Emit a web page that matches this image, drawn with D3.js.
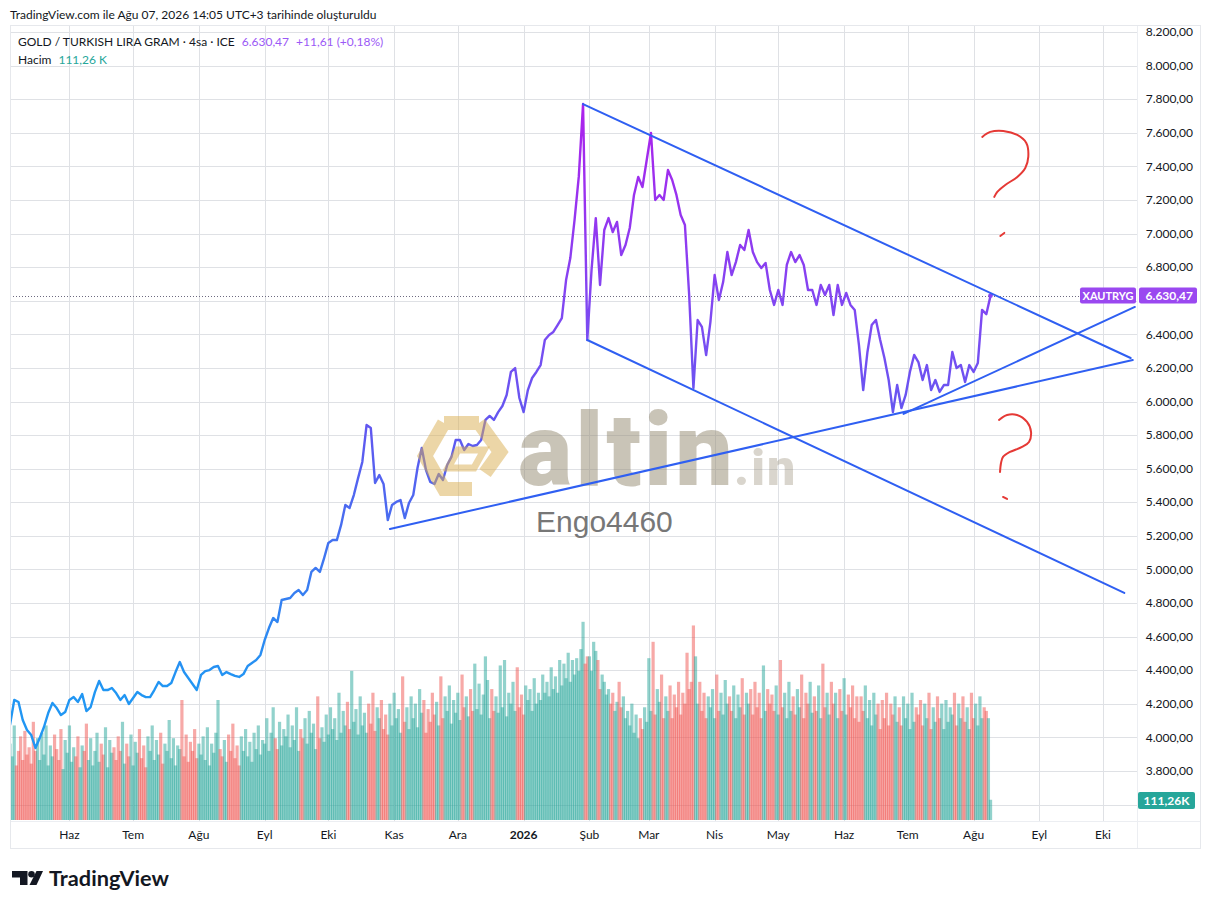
<!DOCTYPE html>
<html><head><meta charset="utf-8">
<script src="https://cdn.jsdelivr.net/npm/d3@7"></script>
<style>
body{margin:0;background:#fff;}
svg{display:block;font-family:Lato,"Open Sans",sans-serif;}
</style>
</head><body>
<svg id="c" width="1211" height="909"></svg>
<script>
// ---------------- DATA ----------------
const startDate = "2025-05-04";   // first price point / first volume bar
const priceStepDays = 2;          // price points every 2 days
const prices = [
4074,4223,4211,4104,4044,4014,3937,3996,4062,4145,
4205,4175,4133,4151,4223,4240,4211,4258,4157,4181,
4270,4336,4282,4282,4294,4264,4223,4252,4199,4235,
4270,4252,4240,4240,4282,4330,4306,4306,4324,4389,
4449,4389,4354,4318,4282,4372,4395,4401,4419,4425,
4372,4389,4377,4366,4360,4377,4425,4443,4461,4491,
4580,4651,4711,4687,4818,4824,4830,4860,4878,4848,
4878,4985,5009,4985,5068,5158,5175,5175,5265,5384,
5366,5443,5544,5640,5860,5842,5515,5562,5509,5294,
5384,5402,5413,5306,5396,5443,5604,5723,5592,5521,
5509,5568,5533,5622,5670,5771,5771,5711,5747,5735,
5741,5771,5890,5914,5890,5937,5973,6039,6176,6199,
6021,5937,6068,6140,6176,6217,6366,6396,6414,6455,
6497,6723,6854,7081,7340,7771,6366,6783,7092,6694,
7021,7092,7009,7069,6872,6932,7033,7230,7337,7277,
7438,7599,7200,7230,7200,7378,7319,7230,7110,7051,
6634,6080,6485,6444,6277,6473,6753,6604,6711,6890,
6753,6830,6932,6902,7021,6890,6830,6795,6825,6664,
6575,6664,6575,6813,6890,6830,6872,6813,6664,6664,
6575,6694,6634,6694,6515,6694,6575,6646,6575,6545,
6336,6068,6295,6455,6485,6366,6259,6128,5937,6098,
5961,6039,6176,6277,6235,6128,6217,6068,6128,6057,
6098,6098,6295,6199,6217,6116,6217,6176,6229,6545,
6520,6630.47
];
// daily volume (K)
const volumes = [
420,350,520,300,380,460,330,490,360,400,
310,540,380,450,330,480,360,520,300,410,
350,470,390,330,500,280,440,370,520,320,
400,350,460,290,410,380,530,330,450,300,
380,480,320,420,360,510,290,440,370,400,
330,460,380,540,310,420,350,470,300,430,
370,500,340,410,290,460,380,520,330,440,
360,480,310,420,380,550,340,450,300,410,
390,660,350,470,320,430,380,500,340,420,
360,460,330,510,300,420,370,480,660,390,
350,440,320,470,380,530,340,410,300,460,
380,500,350,430,320,480,390,520,360,440,
420,560,380,480,620,450,390,540,410,500,
460,580,400,520,440,620,380,500,450,560,
420,600,480,530,390,680,450,510,430,580,
470,620,500,560,440,700,480,600,520,650,
500,820,540,610,470,680,520,590,480,640,
530,700,490,620,560,660,500,580,470,640,
520,700,560,610,480,790,540,620,500,680,
560,640,510,720,590,660,480,610,540,700,
580,650,520,790,560,680,600,740,530,660,
590,700,550,800,620,680,570,720,600,860,
610,750,580,690,900,770,560,720,600,680,
590,850,620,880,570,700,640,760,600,840,
620,690,580,740,660,720,600,780,640,700,
660,800,700,760,680,840,720,790,700,880,
740,860,780,920,760,880,800,890,820,940,
1090,860,900,900,820,980,930,880,720,800,
760,690,720,640,700,600,650,760,620,680,
560,600,520,640,480,580,450,560,500,620,
540,890,600,980,580,720,650,800,560,680,
600,740,560,690,620,760,580,700,640,920,
720,760,1070,900,640,760,600,700,560,680,
620,720,560,800,600,700,580,770,640,680,
600,740,560,690,620,780,580,700,640,720,
580,760,620,700,560,850,600,720,640,690,
600,740,580,880,620,700,560,760,600,680,
580,720,620,800,560,700,640,760,590,680,
600,740,560,860,620,700,580,760,640,700,
560,720,600,780,580,690,620,740,560,680,
540,680,600,740,560,660,520,700,580,640,
500,660,560,700,520,640,580,680,540,620,
520,680,560,640,500,700,540,620,580,660,
520,640,560,700,500,620,540,680,560,640,
500,660,540,620,580,700,520,640,560,680,
540,620,500,700,560,640,520,680,560,620,
600,560,111.26
];
const monthLabels = ["Haz","Tem","Ağu","Eyl","Eki","Kas","Ara","2026","Şub","Mar","Nis","May","Haz","Tem","Ağu","Eyl","Eki"];
const priceTicks = [3600,3800,4000,4200,4400,4600,4800,5000,5200,5400,5600,5800,6000,6200,6400,6600,6800,7000,7200,7400,7600,7800,8000,8200];
const trendLines = [
  [["2026-01-29",7771],["2026-10-14",6259]],
  [["2026-01-31",6366],["2026-10-11",4860]],
  [["2025-10-30",5241],["2026-10-15",6247]],
  [["2026-06-29",5926],["2026-10-16",6563]]
];
const lastPrice = 6630.47;
const lastVolume = "111,26K";
const symbol = "XAUTRYG";
const qMarks = [
 {date:"2026-08-15", price:7611, shape:[[-21,6],[-13,1],[0,0],[14,4],[23,12],[25,26],[22,37],[14,46],[2,54],[-6,61],[-9,66]], dot:[[-3,105],[1,102]]},
 {date:"2026-08-21", price:5920, shape:[[-17,5],[-9,0],[1,0],[11,7],[15,17],[13,27],[6,32],[-6,37],[-13,42],[-15,48],[-16,57]], dot:[[-13,82],[-9,84]]}
];

// ---------------- LAYOUT ----------------
const frame = {l:10, t:25, r:1200, b:848};
const plot = {l:10, t:25, r:1137, b:821};
const svg = d3.select("#c");
const parse = d3.utcParse("%Y-%m-%d");
const t0 = parse(startDate);
const x = d3.scaleUtc().domain([parse("2025-05-04"), parse("2026-10-17")]).range([plot.l, plot.r]);
const y = d3.scaleLinear().domain([3800, 8200]).range([771, 32]);
const yv = d3.scaleLinear().domain([0, 1100]).range([plot.b - 1, 620]);
const loc = d3.formatLocale({decimal:",", thousands:".", grouping:[3], currency:["",""]});
const fmt = loc.format(",.2f");

const priceData = prices.map((p,i)=>({date:d3.utcDay.offset(t0, i*priceStepDays), p}));
const volData = volumes.map((v,i)=>{
  const k = Math.max(1, Math.min(prices.length-1, Math.ceil(i/priceStepDays)));
  return {date:d3.utcDay.offset(t0, i), v, up: prices[k] >= prices[k-1]};
});

svg.append("rect").attr("width",1211).attr("height",909).attr("fill","#fff");

const defs = svg.append("defs");
defs.append("clipPath").attr("id","clip").append("rect")
  .attr("x",plot.l).attr("y",plot.t).attr("width",plot.r-plot.l).attr("height",plot.b-plot.t);
const grad = defs.append("linearGradient").attr("id","lg")
  .attr("gradientUnits","userSpaceOnUse").attr("x1",0).attr("x2",0)
  .attr("y1",y(4300)).attr("y2",y(7750));
[[0,"#2196f3"],[0.26,"#4470f0"],[0.44,"#6058f0"],[0.61,"#7a4cf2"],[0.79,"#9238f0"],[1,"#ac22ec"]]
  .forEach(([o,c])=>grad.append("stop").attr("offset",o).attr("stop-color",c));

// title
svg.append("text").attr("x",10).attr("y",19).attr("font-size",12).attr("fill","#131722")
  .text("TradingView.com ile Ağu 07, 2026 14:05 UTC+3 tarihinde oluşturuldu");

// grid
const gGrid = svg.append("g").attr("stroke","#dfe1e5").attr("stroke-width",1);
const months = d3.utcMonth.range(parse("2025-06-01"), parse("2026-10-02"));
gGrid.selectAll("line.v").data(months).join("line")
  .attr("x1",d=>Math.round(x(d))+0.5).attr("x2",d=>Math.round(x(d))+0.5)
  .attr("y1",plot.t).attr("y2",plot.b);
gGrid.selectAll("line.h").data(priceTicks).join("line")
  .attr("x1",plot.l).attr("x2",plot.r)
  .attr("y1",d=>Math.round(y(d))+0.5).attr("y2",d=>Math.round(y(d))+0.5);

// volume
const step = x(d3.utcDay.offset(t0,1)) - x(t0);
const bw = step * 1.5;
svg.append("g").attr("clip-path","url(#clip)").selectAll("rect").data(volData).join("rect")
  .attr("x",d=>x(d.date)-bw/2).attr("width",bw)
  .attr("y",d=>yv(d.v)).attr("height",d=>yv(0)-yv(d.v))
  .attr("fill",d=>d.up ? "#26a69a" : "#ef5350").attr("opacity",0.5);

// dotted last price line
svg.append("line").attr("x1",plot.l).attr("x2",plot.r)
  .attr("y1",Math.round(y(lastPrice))+0.5).attr("y2",Math.round(y(lastPrice))+0.5)
  .attr("stroke","#6d6a80").attr("stroke-width",1).attr("stroke-dasharray","1,2");

// price line
svg.append("path").datum(priceData).attr("clip-path","url(#clip)")
  .attr("fill","none").attr("stroke","url(#lg)").attr("stroke-width",2.4)
  .attr("stroke-linejoin","round")
  .attr("d", d3.line().x(d=>x(d.date)).y(d=>y(d.p)));
svg.append("circle").attr("cx",x(priceData[priceData.length-1].date)).attr("cy",y(lastPrice))
  .attr("r",2.4).attr("fill","#8a46f2");

// watermark
const wm = svg.append("g");
wm.append("path").attr("d","M444,423 L479,423 M479,423 L500,452 L485,473 M472,489 L444,489 L425,456 L444,423")
  .attr("fill","none").attr("stroke","#d9ad50").attr("stroke-width",14).attr("opacity",0.5).attr("stroke-linejoin","miter");
wm.append("path").attr("d","M458,450 L484,450 L474,468 L448,468 Z")
  .attr("fill","none").attr("stroke","#d9ad50").attr("stroke-width",7).attr("opacity",0.5);
wm.append("text").attr("x",518).attr("y",485).attr("font-family","Roboto").attr("font-weight",900)
  .attr("font-size",102).attr("letter-spacing",3).attr("fill","#958a72").attr("opacity",0.5).text("altin");
wm.append("text").attr("x",734).attr("y",485).attr("font-family","Roboto").attr("font-weight",900)
  .attr("font-size",50).attr("letter-spacing",2).attr("fill","#958a72").attr("opacity",0.35).text(".in");
wm.append("text").attr("x",536).attr("y",532).attr("font-family","Liberation Sans, Arial, sans-serif")
  .attr("font-size",30).attr("fill","#777").text("Engo4460");

// trend lines
svg.append("g").attr("clip-path","url(#clip)").selectAll("line").data(trendLines).join("line")
  .attr("x1",d=>x(parse(d[0][0]))).attr("y1",d=>y(d[0][1]))
  .attr("x2",d=>x(parse(d[1][0]))).attr("y2",d=>y(d[1][1]))
  .attr("stroke","#2f5ff2").attr("stroke-width",2).attr("stroke-linecap","round");

// question marks
const qg = svg.append("g").attr("fill","none").attr("stroke","#e53935").attr("stroke-width",2).attr("stroke-linecap","round");
qMarks.forEach(q=>{
  const ax = x(parse(q.date)), ay = y(q.price);
  qg.append("path").attr("d", d3.line().curve(d3.curveCatmullRom).x(p=>ax+p[0]).y(p=>ay+p[1])(q.shape));
  qg.append("path").attr("d", d3.line().x(p=>ax+p[0]).y(p=>ay+p[1])(q.dot));
});

// separators
svg.append("line").attr("x1",plot.r+0.5).attr("x2",plot.r+0.5).attr("y1",frame.t).attr("y2",frame.b).attr("stroke","#eceef2");
svg.append("line").attr("x1",frame.l).attr("x2",frame.r).attr("y1",plot.b+0.5).attr("y2",plot.b+0.5).attr("stroke","#eceef2");

// price axis labels (labels hidden behind the price / volume badges are skipped, as in the reference)
const by = y(lastPrice);
const volBadgeY = 800.5;
const visibleTicks = priceTicks.filter(d=>Math.abs(y(d)-by)>14 && Math.abs(y(d)-volBadgeY)>12);
svg.append("g").selectAll("text").data(visibleTicks).join("text")
  .attr("x",1193).attr("y",d=>y(d)).attr("dy","0.35em").attr("text-anchor","end")
  .attr("font-size",12).attr("fill","#131722").text(d=>fmt(d));

// time axis labels
svg.append("g").selectAll("text").data(months).join("text")
  .attr("x",d=>x(d)).attr("y",839).attr("text-anchor","middle").attr("font-size",12)
  .attr("fill","#131722").attr("font-weight",(d,i)=>monthLabels[i]==="2026"?700:400)
  .text((d,i)=>monthLabels[i]);

// last price badges
svg.append("rect").attr("x",1080).attr("y",by-8).attr("width",56).attr("height",16).attr("rx",2).attr("fill","#9a48f0");
svg.append("text").attr("x",1108).attr("y",by).attr("dy","0.36em").attr("text-anchor","middle")
  .attr("font-size",11).attr("font-weight",700).attr("fill","#fff").text(symbol);
svg.append("rect").attr("x",1139).attr("y",by-8).attr("width",58).attr("height",16).attr("rx",2).attr("fill","#9a48f0");
svg.append("text").attr("x",1193).attr("y",by).attr("dy","0.36em").attr("text-anchor","end")
  .attr("font-size",12).attr("font-weight",700).attr("fill","#fff").text(fmt(lastPrice));
svg.append("rect").attr("x",1138).attr("y",volBadgeY-8.5).attr("width",57).attr("height",17).attr("rx",2).attr("fill","#26a69a");
svg.append("text").attr("x",1166.5).attr("y",volBadgeY).attr("dy","0.36em").attr("text-anchor","middle")
  .attr("font-size",12).attr("font-weight",700).attr("fill","#fff").text(lastVolume);

// legend
const lg1 = svg.append("text").attr("x",18).attr("y",46).attr("font-size",12);
lg1.append("tspan").attr("fill","#131722").text("GOLD / TURKISH LIRA GRAM · 4sa · ICE");
lg1.append("tspan").attr("dx",7).attr("fill","#9b59f6").text(fmt(lastPrice));
lg1.append("tspan").attr("dx",7).attr("fill","#9b59f6").text("+11,61 (+0,18%)");
const lg2 = svg.append("text").attr("x",18).attr("y",64).attr("font-size",12);
lg2.append("tspan").attr("fill","#131722").text("Hacim");
lg2.append("tspan").attr("dx",7).attr("fill","#26a69a").text("111,26 K");

// frame
svg.append("rect").attr("x",frame.l+0.5).attr("y",frame.t+0.5).attr("width",frame.r-frame.l).attr("height",frame.b-frame.t)
  .attr("fill","none").attr("stroke","#e6e8ec");

// TradingView logo
const tv = svg.append("g").attr("fill","#131722");
tv.append("path").attr("d","M12,871 H27.5 V885 H20 V877.5 H12 Z");
tv.append("circle").attr("cx",31.5).attr("cy",874.3).attr("r",3.3);
tv.append("path").attr("d","M36.5,871 H43 L36.5,885 H29.5 Z");
tv.append("text").attr("x",49).attr("y",885.5).attr("font-size",20).attr("font-weight",700)
  .attr("textLength",120).attr("lengthAdjust","spacingAndGlyphs").text("TradingView");
</script>
</body></html>
